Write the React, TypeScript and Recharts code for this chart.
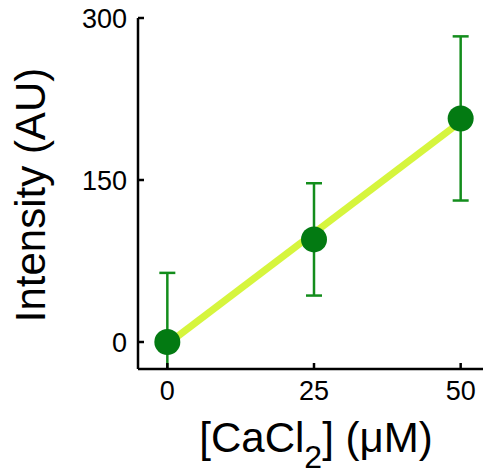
import React from "react";
import { ComposedChart, Scatter, Line, XAxis, YAxis, ErrorBar } from "recharts";

const concentrations = [0, 25, 50];
const intensities = [0, 95, 207];
const intensityErrors = [64, 52, 76];
const fitX = [0, 50];
const fitY = [-2, 204];
const xTicks = [0, 25, 50];
const yTicks = [0, 150, 300];

const points = concentrations.map((x, i) => ({ x, y: intensities[i], err: intensityErrors[i] }));
const fitLine = fitX.map((x, i) => ({ x, fit: fitY[i] }));

const FONT = "'Liberation Sans', Arial, Helvetica, sans-serif";

const XTitle = () => (
  <text x={316} y={452} textAnchor="middle" fontFamily={FONT} fontSize={42} fill="#000">
    <tspan>[CaCl</tspan>
    <tspan fontSize={32} dy={16}>2</tspan>
    <tspan dy={-16}>] (μM)</tspan>
  </text>
);

const YTitle = () => (
  <text
    x={45}
    y={195}
    transform="rotate(-90 45 195)"
    textAnchor="middle"
    fontFamily={FONT}
    fontSize={42}
    fill="#000"
  >
    Intensity (AU)
  </text>
);

const Dot = (props: any) => {
  const { cx, cy } = props;
  return <circle cx={cx} cy={cy} r={13} fill="#037a12" />;
};

export default function App() {
  return (
    <div style={{ position: "absolute", left: 0, top: 0, width: 483, height: 475, overflow: "hidden", background: "#fff" }}>
      <style>{`.recharts-errorBar { clip-path: url(#plotAreaClip); }`}</style>
      <svg width={0} height={0} style={{ position: "absolute" }}>
        <defs>
          <clipPath id="plotAreaClip">
            <rect x={138} y={18} width={352} height={351} />
          </clipPath>
        </defs>
      </svg>
      <ComposedChart width={490} height={475} margin={{ top: 18, right: 0, bottom: 0, left: 0 }}>
        <XAxis
          type="number"
          dataKey="x"
          domain={[-5, 55]}
          ticks={xTicks}
          allowDataOverflow
          height={106}
          tickSize={-6}
          tickMargin={18}
          stroke="#000"
          strokeWidth={2.5}
          tick={{ fill: "#000", fontSize: 27, fontFamily: FONT }}
          label={{ content: () => <XTitle /> }}
        />
        <YAxis
          type="number"
          domain={[-25, 300]}
          ticks={yTicks}
          allowDataOverflow
          width={138}
          tickSize={-6}
          tickMargin={17}
          stroke="#000"
          strokeWidth={2.5}
          tick={{ fill: "#000", fontSize: 27, fontFamily: FONT }}
          label={{ content: () => <YTitle /> }}
        />
        <Line
          data={fitLine}
          dataKey="fit"
          stroke="#d6f53d"
          strokeWidth={7}
          dot={false}
          isAnimationActive={false}
        />
        <Scatter data={points} dataKey="y" shape={<Dot />} isAnimationActive={false}>
          <ErrorBar dataKey="err" direction="y" width={8} stroke="#138d1c" strokeWidth={2.5} />
        </Scatter>
      </ComposedChart>
    </div>
  );
}
